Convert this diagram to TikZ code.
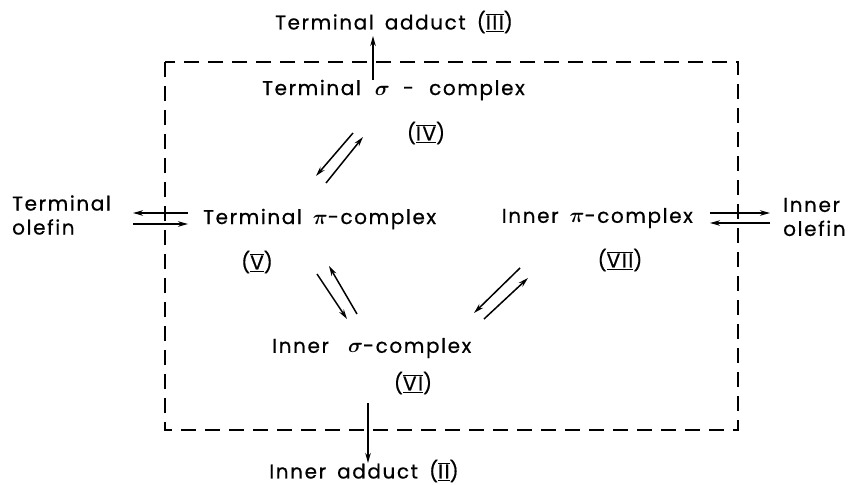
\documentclass[tikz,border=0pt]{standalone}
\usepackage{bm}
\usepackage{fontspec}
\setmainfont{Poppins}[LetterSpace=8,WordSpace=1.6,FakeBold=0.6]
\usetikzlibrary{arrows.meta}
\newcommand\rnum[1]{$\overline{\underline{\hbox{#1}}}$}
\newcommand\gs{$\bm{\sigma}$}
\newcommand\gp{$\bm{\pi}$}
\begin{document}
\begin{tikzpicture}[x=1pt,y=-1pt,
  lbl/.style={inner sep=0pt,font=\fontsize{20}{24}\selectfont},
  rx/.style={line width=1.5pt,-{Stealth[length=10pt,width=5.5pt]}},
  box/.style={line width=1.6pt,dash pattern=on 15pt off 9pt}]
\useasboundingbox (0,0) rectangle (850,484);
% dashed frame
\draw[box] (165,62) rectangle (738,430);
% nodes
\node[lbl] (tadd) at (394,22) {Terminal adduct (\rnum{III})};
\node[lbl,anchor=west] (tsig) at (262,90) {Terminal\hspace{3pt} \gs\hspace{2pt} -\hspace{4pt} complex};
\node[lbl] (IV) at (426,133) {(\rnum{IV})};
\node[lbl,align=left,anchor=west] (tol) at (12,215) {Terminal\\olefin};
\node[lbl,anchor=west] (tpi) at (203,219) {Terminal \gp-complex};
\node[lbl] (V) at (257,262) {(\rnum{V})};
\node[lbl,anchor=east] (ipi) at (693,218) {Inner \gp-complex};
\node[lbl] (VII) at (620,260) {(\rnum{VII})};
\node[lbl,align=left,anchor=west] (iol) at (783,217) {Inner\\olefin};
\node[lbl,anchor=west] (isig) at (272,348) {Inner\hspace{8pt} \gs-complex};
\node[lbl] (VI) at (413,383) {(\rnum{VI})};
\node[lbl] (iadd) at (364,471) {Inner adduct (\rnum{II})};
% connector end points
\coordinate (upA) at (373,80);   \coordinate (upB) at (373,36);
\coordinate (dnA) at (368,403);  \coordinate (dnB) at (368,463);
\coordinate (l1a) at (188,213);  \coordinate (l1b) at (133,213);
\coordinate (l2a) at (133,224);  \coordinate (l2b) at (188,224);
\coordinate (r1a) at (710,213);  \coordinate (r1b) at (770,213);
\coordinate (r2a) at (770,223);  \coordinate (r2b) at (710,223);
\coordinate (a1a) at (353,133);  \coordinate (a1b) at (316,176);
\coordinate (a2a) at (326,183);  \coordinate (a2b) at (363,137);
\coordinate (b1a) at (317,274);  \coordinate (b1b) at (347,319);
\coordinate (b2a) at (357,314);  \coordinate (b2b) at (329,266);
\coordinate (c1a) at (520,268);  \coordinate (c1b) at (474,313);
\coordinate (c2a) at (484,319);  \coordinate (c2b) at (528,278);
% connectors
\draw[rx] (upA) -- (upB);
\draw[rx] (dnA) -- (dnB);
\draw[rx] (l1a) -- (l1b);
\draw[rx] (l2a) -- (l2b);
\draw[rx] (r1a) -- (r1b);
\draw[rx] (r2a) -- (r2b);
\draw[rx] (a1a) -- (a1b);
\draw[rx] (a2a) -- (a2b);
\draw[rx] (b1a) -- (b1b);
\draw[rx] (b2a) -- (b2b);
\draw[rx] (c1a) -- (c1b);
\draw[rx] (c2a) -- (c2b);
\end{tikzpicture}
\end{document}
